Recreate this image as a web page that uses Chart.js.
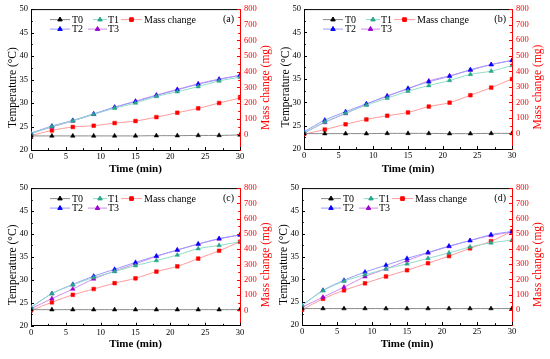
<!DOCTYPE html>
<html><head><meta charset="utf-8">
<script src="https://cdn.jsdelivr.net/npm/chart.js@4/dist/chart.umd.min.js"></script>
<style>
html,body{margin:0;padding:0;background:#fff;}
.p{position:absolute;}
canvas{display:block;}
</style></head><body>
<div class="p" style="left:0;top:0;width:275px;height:179px"><canvas id="ca" width="275" height="179"></canvas></div>
<div class="p" style="left:275px;top:0;width:275px;height:179px"><canvas id="cb" width="275" height="179"></canvas></div>
<div class="p" style="left:0;top:179px;width:275px;height:180px"><canvas id="cc" width="275" height="180"></canvas></div>
<div class="p" style="left:275px;top:179px;width:275px;height:180px"><canvas id="cd" width="275" height="180"></canvas></div>
<script>
// ---------- data ----------
const times = [0, 3, 6, 9, 12, 15, 18, 21, 24, 27, 30];
const seriesNames = ['T0', 'T1', 'T2', 'T3', 'Mass change'];
const panelLabels = ['(a)', '(b)', '(c)', '(d)'];
const tempTicks = [20, 25, 30, 35, 40, 45, 50];
const massTicks = [0, 100, 200, 300, 400, 500, 600, 700, 800];
const timeTicks = [0, 5, 10, 15, 20, 25, 30];
const xTitle = 'Time (min)';
const yTitle = 'Temperature (°C)';
const y1Title = 'Mass change (mg)';

const a_T0 = [23.0, 23.0, 23.0, 23.0, 23.0, 23.0, 23.05, 23.05, 23.1, 23.1, 23.2];
const a_T1 = [23.5, 25.0, 26.2, 27.6, 28.9, 30.0, 31.4, 32.4, 33.5, 34.7, 35.5];
const a_T2 = [23.6, 25.1, 26.3, 27.7, 29.1, 30.3, 31.6, 32.8, 34.0, 35.0, 35.9];
const a_T3 = [23.5, 24.9, 26.2, 27.6, 29.1, 30.4, 31.7, 32.9, 34.1, 35.1, 35.9];
const a_M  = [-8, 25, 47, 55, 72, 85, 110, 138, 166, 200, 232];

const b_T0 = [23.3, 23.3, 23.3, 23.3, 23.35, 23.35, 23.35, 23.3, 23.3, 23.35, 23.35];
const b_T1 = [23.5, 25.8, 27.7, 29.4, 30.9, 32.4, 33.6, 34.7, 36.0, 36.7, 37.9];
const b_T2 = [23.7, 26.2, 28.0, 29.7, 31.3, 33.0, 34.4, 35.6, 37.0, 38.1, 39.0];
const b_T3 = [23.4, 25.7, 27.6, 29.6, 31.4, 32.9, 34.6, 35.7, 36.9, 38.1, 39.0];
const b_M  = [-5, 25, 59, 90, 114, 135, 173, 198, 246, 295, 350];

const c_T0 = [23.5, 23.5, 23.5, 23.5, 23.5, 23.5, 23.5, 23.5, 23.5, 23.5, 23.5];
const c_T1 = [24.0, 27.0, 28.9, 30.5, 31.8, 33.1, 34.2, 35.4, 36.8, 37.5, 38.3];
const c_T2 = [24.0, 27.0, 29.0, 30.8, 32.3, 33.8, 35.2, 36.5, 37.8, 39.0, 39.8];
const c_T3 = [23.7, 25.9, 28.0, 30.2, 31.9, 33.5, 35.1, 36.5, 37.8, 38.9, 39.8];
const c_M  = [0, 53, 102, 140, 178, 210, 254, 288, 339, 390, 449];

const d_T0 = [23.6, 23.6, 23.6, 23.6, 23.6, 23.6, 23.6, 23.6, 23.6, 23.6, 23.6];
const d_T1 = [24.3, 27.5, 29.6, 31.0, 32.3, 33.4, 34.6, 35.8, 37.1, 38.0, 38.6];
const d_T2 = [24.3, 27.6, 29.8, 31.6, 33.1, 34.6, 35.9, 37.3, 38.5, 39.8, 40.5];
const d_T3 = [23.9, 26.1, 28.3, 30.6, 32.3, 34.1, 35.8, 37.2, 38.5, 39.6, 40.4];
const d_M  = [0, 72, 128, 174, 219, 260, 306, 353, 404, 451, 515];

// ---------- styling ----------
const markerColors = ['#000000', '#2aa58a', '#0000ff', '#9a00d0', '#ff0000'];
const lineColors   = ['#8a8a8a', '#8fdcc8', '#9a9aff', '#d08af0', '#ff9a9a'];
const pointStyles  = ['triangle', 'triangle', 'triangle', 'triangle', 'rect'];
const FONT = '"Liberation Serif", "Times New Roman", serif';

const layouts = [
  {id: 'ca', left: 31, right: 35, top: 8, bottom: 29, titleB: 3.4},
  {id: 'cb', left: 29, right: 38, top: 7, bottom: 30, titleB: 3.4},
  {id: 'cc', left: 31, right: 35, top: 4.7, bottom: 33.3, titleB: 8.4},
  {id: 'cd', left: 27, right: 38, top: 4.7, bottom: 34, titleB: 8.4}
];
const panelData = [
  [a_T0, a_T1, a_T2, a_T3, a_M],
  [b_T0, b_T1, b_T2, b_T3, b_M],
  [c_T0, c_T1, c_T2, c_T3, c_M],
  [d_T0, d_T1, d_T2, d_T3, d_M]
];

const tickPlugin = {
  id: 'inTicks',
  afterDraw(chart) {
    const ctx = chart.ctx, ca = chart.chartArea;
    ctx.save();
    ctx.lineWidth = 1;
    // top frame
    ctx.strokeStyle = '#000';
    ctx.beginPath(); ctx.moveTo(ca.left, ca.top + 0.5); ctx.lineTo(ca.right, ca.top + 0.5); ctx.stroke();
    const drawTicks = (scale, vals, color, fn) => {
      ctx.strokeStyle = color;
      for (let i = 0; i < vals.length; i++) {
        fn(scale.getPixelForValue(vals[i]), 3);
        if (i < vals.length - 1) fn(scale.getPixelForValue((vals[i] + vals[i + 1]) / 2), 1.8);
      }
    };
    const sx = chart.scales.x, sy = chart.scales.y, sy1 = chart.scales.y1;
    drawTicks(sx, timeTicks, '#000', (p, l) => {
      p = Math.round(p) + 0.5;
      ctx.beginPath(); ctx.moveTo(p, ca.bottom); ctx.lineTo(p, ca.bottom - l); ctx.stroke();
    });
    drawTicks(sy, tempTicks, '#000', (p, l) => {
      p = Math.round(p) + 0.5;
      ctx.beginPath(); ctx.moveTo(ca.left, p); ctx.lineTo(ca.left + l, p); ctx.stroke();
    });
    drawTicks(sy1, massTicks, '#ff0000', (p, l) => {
      p = Math.round(p) + 0.5;
      ctx.beginPath(); ctx.moveTo(ca.right, p); ctx.lineTo(ca.right - l, p); ctx.stroke();
    });
    // vertical axis titles (both read bottom-to-top)
    const cy = (ca.top + ca.bottom) / 2 + 8;
    ctx.font = '11.5px ' + FONT;
    ctx.textAlign = 'center';
    ctx.textBaseline = 'middle';
    ctx.fillStyle = '#000';
    ctx.save(); ctx.translate(ca.left - 18.5, cy); ctx.rotate(-Math.PI / 2); ctx.fillText(yTitle, 0, 0); ctx.restore();
    ctx.fillStyle = '#ff0000';
    ctx.save(); ctx.translate(ca.right + 25.5, cy); ctx.rotate(-Math.PI / 2); ctx.fillText(y1Title, 0, 0); ctx.restore();
    ctx.restore();
  }
};

const legendPlugin = {
  id: 'inLegend',
  afterDraw(chart, args, opts) {
    const ctx = chart.ctx, ca = chart.chartArea;
    const items = [
      {i: 0, row: 0, x0: 19, x1: 39, tx: 41},
      {i: 1, row: 0, x0: 62, x1: 76, tx: 77},
      {i: 4, row: 0, x0: 90, x1: 111, tx: 113},
      {i: 2, row: 1, x0: 19, x1: 39, tx: 41},
      {i: 3, row: 1, x0: 57, x1: 76, tx: 77}
    ];
    ctx.save();
    ctx.font = '10px ' + FONT;
    ctx.textBaseline = 'middle';
    ctx.textAlign = 'left';
    items.forEach(it => {
      const ds = chart.data.datasets[it.i];
      const y = ca.top + 10.5 + it.row * 9.5;
      ctx.strokeStyle = ds.borderColor;
      ctx.lineWidth = 1;
      ctx.beginPath(); ctx.moveTo(ca.left + it.x0, y); ctx.lineTo(ca.left + it.x1, y); ctx.stroke();
      ctx.fillStyle = ds.pointBackgroundColor;
      ctx.strokeStyle = ds.pointBorderColor;
      Chart.helpers.drawPoint(ctx, {pointStyle: ds.pointStyle, radius: 2.6, borderWidth: 0.5, rotation: 0},
        ca.left + (it.x0 + it.x1) / 2, y);
      ctx.fillStyle = '#000';
      ctx.fillText(ds.label, ca.left + it.tx, y + 0.5);
    });
    ctx.textAlign = 'right';
    ctx.fillText(opts.tag, ca.right - 6, ca.top + 10.5);
    ctx.restore();
  }
};

function makeChart(k) {
  const L = layouts[k];
  const vals = panelData[k];
  const datasets = vals.map((arr, i) => ({
    label: seriesNames[i],
    data: times.map((t, j) => ({x: t, y: arr[j]})),
    yAxisID: i === 4 ? 'y1' : 'y',
    borderColor: lineColors[i],
    borderWidth: 1,
    pointStyle: pointStyles[i],
    pointRadius: 2.6,
    pointBorderWidth: 0.5,
    pointBackgroundColor: markerColors[i],
    pointBorderColor: markerColors[i],
    tension: 0.3,
    fill: false
  }));
  const noGrid = {display: false, drawTicks: false, tickLength: 0};
  return new Chart(document.getElementById(L.id), {
    type: 'line',
    data: {datasets},
    plugins: [tickPlugin, legendPlugin],
    options: {
      responsive: false,
      animation: false,
      layout: {padding: {top: L.top, left: 0, right: 0, bottom: 0}},
      plugins: {legend: {display: false}, tooltip: {enabled: false}, inLegend: {tag: panelLabels[k]}},
      scales: {
        x: {
          type: 'linear', min: 0, max: 30,
          afterBuildTicks: s => { s.ticks = timeTicks.map(v => ({value: v})); },
          ticks: {font: {family: FONT, size: 8.5}, color: '#000', padding: 1.5, maxRotation: 0},
          grid: noGrid,
          border: {display: true, color: '#000', width: 1},
          title: {display: true, text: xTitle, color: '#000', font: {family: FONT, size: 11, weight: 'bold'}, padding: {top: 0, bottom: L.titleB}},
          afterFit: s => { s.height = L.bottom; }
        },
        y: {
          type: 'linear', position: 'left', min: 20, max: 50,
          afterBuildTicks: s => { s.ticks = tempTicks.map(v => ({value: v})); },
          ticks: {font: {family: FONT, size: 8.5}, color: '#000', padding: 3},
          grid: noGrid,
          border: {display: true, color: '#000', width: 1},
          title: {display: false},
          afterFit: s => { s.width = L.left; }
        },
        y1: {
          type: 'linear', position: 'right', min: -100, max: 800,
          afterBuildTicks: s => { s.ticks = massTicks.map(v => ({value: v})); },
          ticks: {font: {family: FONT, size: 8.5}, color: '#ff0000', padding: 4},
          grid: noGrid,
          border: {display: true, color: '#ff0000', width: 1},
          title: {display: false},
          afterFit: s => { s.width = L.right; }
        }
      }
    }
  });
}
for (let k = 0; k < 4; k++) makeChart(k);
</script>
</body></html>
